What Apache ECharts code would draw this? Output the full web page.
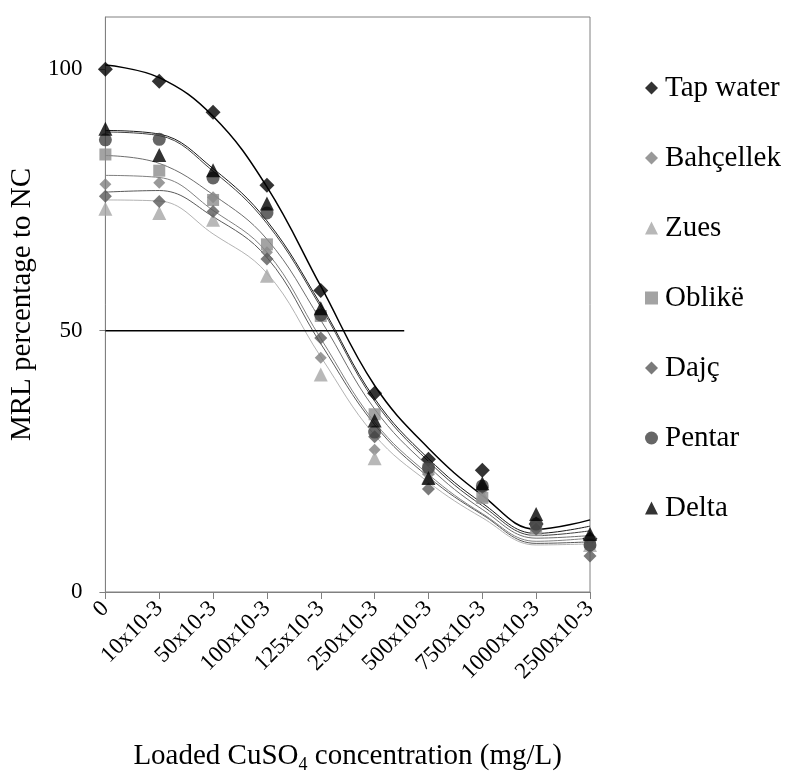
<!DOCTYPE html>
<html>
<head>
<meta charset="utf-8">
<script src="https://cdn.jsdelivr.net/npm/echarts@6/dist/echarts.min.js"></script>
<style>
html, body { margin: 0; background: #fff; }
#chart { width: 787px; height: 779px; }
</style>
</head>
<body>
<div id="chart"></div>
<script>
// categories on the x axis (loaded CuSO4, mg/L)
const categories = ['0', '10x10-3', '50x10-3', '100x10-3', '125x10-3', '250x10-3', '500x10-3', '750x10-3', '1000x10-3', '2500x10-3'];

// measured points, MRL % of NC
const tapWater  = [100, 97.7, 91.8, 77.8, 57.7, 38.0, 25.4, 23.3, 13.0, 10.2];
const bahcellek = [78.0, 78.3, 75.5, 65.0, 44.8, 27.2, 22.5, 19.5, 12.5, 8.5];
const zues      = [73.3, 72.5, 71.2, 60.5, 41.6, 25.6, 22.0, 18.5, 12.0, 9.0];
const oblike    = [83.7, 80.6, 75.0, 66.5, 52.8, 34.0, 23.5, 18.0, 12.5, 9.5];
const dajc      = [75.7, 74.7, 72.8, 63.7, 48.6, 29.7, 19.7, 20.0, 12.0, 6.9];
const pentar    = [86.5, 86.6, 79.2, 72.5, 53.0, 30.6, 23.8, 20.3, 13.0, 9.0];
const delta     = [88.6, 83.6, 80.7, 74.3, 54.3, 32.8, 21.8, 20.8, 14.9, 11.1];

// trend curves at each category
const tapWaterTrend  = [100.8, 98.4, 91.0, 77.5, 58.5, 39.5, 27.5, 18.5, 12.0, 13.8];
const deltaTrend     = [88.3, 87.6, 81.0, 71.0, 55.0, 37.0, 25.5, 17.0, 11.2, 12.6];
const pentarTrend    = [88.0, 87.3, 80.5, 70.5, 54.5, 36.5, 25.0, 16.5, 10.8, 11.7];
const oblikeTrend    = [83.5, 82.0, 76.0, 67.5, 52.0, 35.0, 24.0, 15.8, 10.3, 10.8];
const bahcellekTrend = [79.7, 79.3, 73.0, 65.0, 48.5, 32.5, 22.5, 15.0, 9.7, 10.3];
const dajcTrend      = [76.5, 76.8, 71.8, 64.0, 47.5, 32.0, 22.0, 14.8, 9.3, 9.6];
const zuesTrend      = [75.0, 74.8, 68.5, 61.0, 45.0, 30.0, 21.0, 14.2, 9.0, 9.2];

// the 50 % reference line: value, and where it stops (in category units)
const refValue = 50;
const refEnd = 5.55;

const yMax = 110;
const yStep = 50;

const font = 'Liberation Serif';

const groups = [
  { name: 'Tap water', pts: tapWater,  trend: tapWaterTrend,  color: '#000000', line: '#000000', symbol: 'diamond',  size: 15, width: 1.5 },
  { name: 'Bahçellek', pts: bahcellek, trend: bahcellekTrend, color: '#7f7f7f', line: '#808080', symbol: 'diamond',  size: 12, width: 1 },
  { name: 'Zues',      pts: zues,      trend: zuesTrend,      color: '#a6a6a6', line: '#b3b3b3', symbol: 'triangle', size: 14, width: 1 },
  { name: 'Oblikë',    pts: oblike,    trend: oblikeTrend,    color: '#8c8c8c', line: '#6e6e6e', symbol: 'rect',     size: 12, width: 1 },
  { name: 'Dajç',      pts: dajc,      trend: dajcTrend,      color: '#595959', line: '#595959', symbol: 'diamond',  size: 13, width: 1 },
  { name: 'Pentar',    pts: pentar,    trend: pentarTrend,    color: '#404040', line: '#404040', symbol: 'circle',   size: 13, width: 1 },
  { name: 'Delta',     pts: delta,     trend: deltaTrend,     color: '#000000', line: '#1a1a1a', symbol: 'triangle', size: 14, width: 1 }
];

const series = [];
groups.forEach(g => {
  series.push({
    name: g.name + ' fit',
    type: 'line',
    smooth: 0.4,
    symbol: 'none',
    z: 2,
    lineStyle: { color: g.line, width: g.width },
    data: g.trend
  });
});
groups.forEach(g => {
  series.push({
    name: g.name,
    type: 'scatter',
    symbol: g.symbol,
    symbolSize: g.size,
    z: 3,
    itemStyle: { color: g.color },
    data: g.pts
  });
});
// reference line drawn on a hidden value x axis so it can stop between categories
series.push({
  name: 'ref',
  type: 'line',
  xAxisIndex: 1,
  symbol: 'none',
  z: 4,
  lineStyle: { color: '#000', width: 1.5 },
  data: [[0, refValue], [refEnd, refValue]]
});

const tick = { fontFamily: font, fontSize: 23, color: '#000' };

const chart = echarts.init(document.getElementById('chart'));
chart.setOption({
  animation: false,
  backgroundColor: '#fff',
  textStyle: { fontFamily: font, color: '#000' },
  grid: {
    left: 103, right: 197, top: 17, bottom: 182,
    show: true, borderColor: '#808080', borderWidth: 1, backgroundColor: 'transparent'
  },
  legend: {
    orient: 'vertical',
    left: 640,
    top: 66,
    itemGap: 36,
    itemWidth: 13,
    itemHeight: 13,
    data: groups.map(g => g.name),
    formatter: '{t|{name}}',
    textStyle: {
      fontFamily: font, fontSize: 29, color: '#000', lineHeight: 34, padding: [0, 0, 0, 2],
      rich: { t: { fontFamily: font, fontSize: 29, color: '#000', lineHeight: 34 } }
    }
  },
  xAxis: [{
    type: 'category',
    data: categories,
    boundaryGap: false,
    name: '{a|Loaded CuSO}{sub|4}{a| concentration (mg/L)}',
    nameLocation: 'middle',
    nameGap: 146,
    nameTextStyle: {
      rich: {
        a: { fontFamily: font, fontSize: 29, color: '#000', lineHeight: 36 },
        sub: { fontFamily: font, fontSize: 18, color: '#000', lineHeight: 18, verticalAlign: 'bottom' }
      }
    },
    axisLine: { lineStyle: { color: '#808080' } },
    axisTick: { inside: false, length: 7, alignWithLabel: true, lineStyle: { color: '#808080' } },
    axisLabel: {
      rotate: 45, margin: 13, interval: 0,
      fontFamily: font, fontSize: 23, color: '#000',
      formatter: v => '{t|' + v + '}',
      rich: { t: tick }
    },
    splitLine: { show: false }
  }, {
    type: 'value',
    min: 0,
    max: categories.length - 1,
    show: false
  }],
  yAxis: {
    type: 'value',
    min: 0,
    max: yMax,
    interval: yStep,
    name: 'MRL percentage to NC',
    nameLocation: 'middle',
    nameGap: 58,
    nameTextStyle: { fontFamily: font, fontSize: 29, color: '#000' },
    axisLine: { show: true, lineStyle: { color: '#808080' } },
    axisTick: { show: true, length: 6, lineStyle: { color: '#808080' } },
    axisLabel: {
      margin: 23, showMaxLabel: false,
      fontFamily: font, fontSize: 23, color: '#000',
      formatter: v => '{t|' + v + '}',
      rich: { t: tick }
    },
    splitLine: { show: false }
  },
  series: series
});
</script>
</body>
</html>
